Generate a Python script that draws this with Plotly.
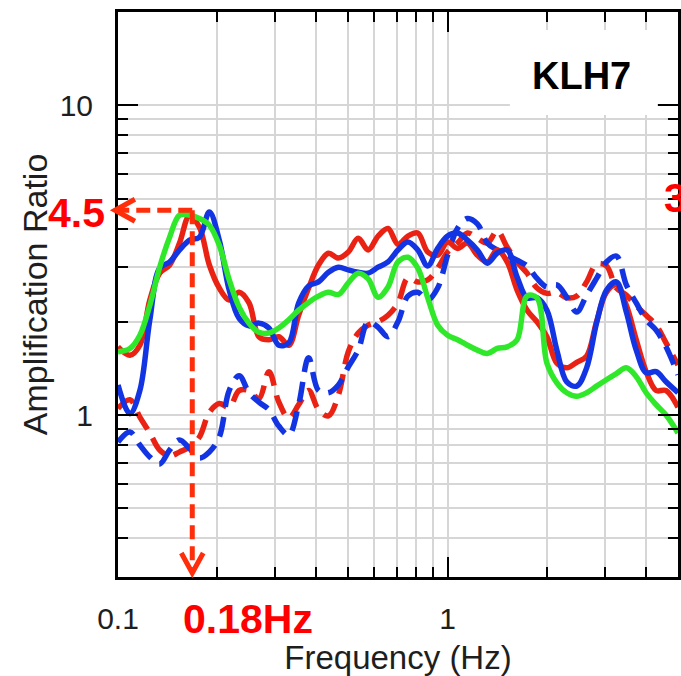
import math
import plotly.graph_objects as go

# ---------------- data ----------------
freq = [0.100, 0.1087, 0.1165, 0.1249, 0.1338, 0.1434, 0.1537, 0.1648, 0.1766, 0.1893,
        0.2029, 0.2175, 0.2331, 0.2498, 0.2677, 0.2870, 0.3076, 0.3297, 0.3533, 0.3787,
        0.4058, 0.4350, 0.4663, 0.4997, 0.5356, 0.5741, 0.6153, 0.6595, 0.7068, 0.7576,
        0.8120, 0.8704, 0.9330, 1.000, 1.072, 1.149, 1.231, 1.320, 1.414, 1.516,
        1.625, 1.742, 1.867, 2.001, 2.145, 2.299, 2.464, 2.641, 2.830, 3.033,
        3.251, 3.485, 3.735, 4.003, 4.291, 4.599, 5.00]

red_solid = [1.66, 1.56, 1.68, 2.35, 2.87, 3.05, 3.59, 4.40, 4.04, 3.05,
             2.57, 2.35, 2.49, 2.30, 1.79, 1.75, 1.79, 1.68, 2.10, 2.57,
             3.05, 3.33, 3.21, 3.36, 3.72, 3.41, 3.78, 4.00, 3.56, 3.78,
             3.87, 3.36, 3.28, 3.62, 3.45, 3.59, 3.28, 3.12, 3.41, 3.12,
             2.53, 2.18, 2.00, 1.79, 1.47, 1.42, 1.48, 1.55, 2.00, 2.49,
             2.63, 2.26, 1.75, 1.38, 1.20, 1.20, 1.06]

blue_solid = [1.25, 1.01, 1.20, 2.03, 2.98, 3.12, 3.41, 3.67, 3.75, 4.52,
              3.67, 2.53, 2.05, 1.94, 1.98, 1.91, 1.68, 1.71, 2.30, 2.61,
              2.69, 2.89, 3.00, 2.94, 2.89, 2.87, 3.00, 3.12, 3.41, 3.62,
              3.41, 3.03, 3.45, 3.78, 3.87, 3.67, 3.41, 3.09, 3.33, 3.41,
              2.79, 2.39, 2.39, 2.18, 1.62, 1.28, 1.24, 1.42, 1.98, 2.53,
              2.69, 2.15, 1.62, 1.37, 1.38, 1.28, 1.18]

green_solid = [1.60, 1.64, 1.81, 2.26, 3.00, 3.75, 4.42, 4.42, 4.31, 4.10,
               3.53, 2.73, 2.23, 1.98, 1.85, 1.84, 1.91, 2.03, 2.18, 2.31,
               2.42, 2.49, 2.45, 2.67, 2.87, 2.75, 2.40, 2.59, 3.12, 3.23,
               2.98, 2.39, 1.95, 1.81, 1.75, 1.68, 1.62, 1.58, 1.64, 1.66,
               1.75, 2.42, 2.39, 1.47, 1.27, 1.18, 1.15, 1.18, 1.24, 1.30,
               1.36, 1.42, 1.33, 1.18, 1.08, 1.00, 0.875]

red_dashed = [1.05, 1.12, 0.985, 0.875, 0.771, 0.738, 0.760, 0.788, 0.849, 1.02,
              1.09, 1.06, 1.20, 1.20, 1.13, 1.38, 1.10, 0.978, 1.08, 1.20,
              1.04, 0.993, 1.16, 1.60, 1.84, 1.95, 2.00, 2.10, 2.30, 2.77,
              2.69, 2.73, 2.98, 3.36, 3.59, 3.87, 3.72, 3.59, 3.93, 3.48,
              3.12, 2.87, 2.57, 2.47, 2.49, 2.39, 2.42, 2.69, 3.07, 3.03,
              2.57, 2.44, 2.25, 2.10, 1.95, 1.71, 1.45]

blue_dashed = [0.818, 0.881, 0.800, 0.732, 0.695, 0.771, 0.831, 0.780, 0.727, 0.760,
               0.849, 1.20, 1.34, 1.18, 1.10, 1.04, 0.921, 0.862, 1.08, 1.53,
               1.20, 1.18, 1.25, 1.43, 1.62, 2.00, 1.92, 1.79, 2.00, 2.42,
               2.49, 2.35, 2.57, 3.28, 4.01, 4.31, 4.14, 3.59, 3.41, 3.28,
               3.16, 3.03, 2.76, 2.59, 2.63, 2.40, 2.15, 2.44, 2.76, 3.12,
               3.26, 2.63, 2.30, 2.03, 1.88, 1.66, 1.35]

x_major = [0.1, 1]
x_major_text = ["0.1", "1"]
x_minor = [0.2, 0.3, 0.4, 0.5, 0.6, 0.7, 0.8, 0.9, 2, 3, 4]
y_major = [1, 10]
y_major_text = ["1", "10"]
y_minor = [0.4, 0.5, 0.6, 0.7, 0.8, 0.9, 2, 3, 4, 5, 6, 7, 8, 9]

peak_freq = 0.168   # marked peak (annotated as 0.18Hz)
peak_amp = 4.58     # marked peak amplitude (annotated as 4.5)

X_RANGE = [math.log10(0.1), math.log10(5.0)]
Y_RANGE = [math.log10(0.3), math.log10(20.0)]

# ---------------- styles / layout geometry ----------------
RED = "#ea2214"
BLUE = "#1234e2"
GREEN = "#30e82a"
ARROW = "#ff2d0a"
FONT = "Liberation Sans, Arial, sans-serif"

W, H = 681, 676
ML, MR, MT, MB = 118, 0, 12, 99
PW, PH = W - ML - MR, H - MT - MB
WIN_LEFT, WIN_BOTTOM = ML, H - MB   # plot left / bottom edge in pixels

fig = go.Figure()

def add_curve(y, color, dash=None):
    fig.add_trace(go.Scatter(
        x=freq, y=y, mode="lines",
        line=dict(color=color, width=5.5, shape="spline", smoothing=1.0,
                  dash=dash if dash else "solid"),
        hoverinfo="skip", showlegend=False))

add_curve(red_dashed, RED, "20px,10px")
add_curve(blue_dashed, BLUE, "20px,10px")
add_curve(red_solid, RED)
add_curve(blue_solid, BLUE)
add_curve(green_solid, GREEN)

# ---------------- paper-coordinate helpers ----------------
def px_x(f):
    return (math.log10(f) - X_RANGE[0]) / (X_RANGE[1] - X_RANGE[0])

def px_y(a):
    return (math.log10(a) - Y_RANGE[0]) / (Y_RANGE[1] - Y_RANGE[0])

def wx(x):  # pixel x -> paper
    return (x - WIN_LEFT) / PW

def wy(y):  # pixel y -> paper
    return (WIN_BOTTOM - y) / PH

pxk = 1.0 / PW
pyk = 1.0 / PH
xp, yp = px_x(peak_freq), px_y(peak_amp)
tip_left = -3 * pxk
tip_down = 4 * pyk
arrow_line = dict(color=ARROW, width=5, dash="14px,7px")
head_line = dict(color=ARROW, width=5)

shapes = [
    # white box behind station label
    dict(type="rect", xref="paper", yref="paper",
         x0=wx(512), x1=wx(660), y0=wy(115), y1=wy(30),
         fillcolor="white", line=dict(width=0), layer="above"),
    # horizontal dashed arrow to the amplitude axis
    dict(type="line", xref="paper", yref="paper",
         x0=xp, y0=yp, x1=tip_left + 4 * pxk, y1=yp, line=arrow_line, layer="above"),
    dict(type="path", xref="paper", yref="paper",
         path=f"M {tip_left + 20*pxk} {yp + 11*pyk} L {tip_left} {yp} L {tip_left + 20*pxk} {yp - 11*pyk}",
         line=head_line, layer="above"),
    # vertical dashed arrow to the frequency axis
    dict(type="line", xref="paper", yref="paper",
         x0=xp, y0=yp, x1=xp, y1=tip_down + 4 * pyk, line=arrow_line, layer="above"),
    dict(type="path", xref="paper", yref="paper",
         path=f"M {xp - 11*pxk} {tip_down + 20*pyk} L {xp} {tip_down} L {xp + 11*pxk} {tip_down + 20*pyk}",
         line=head_line, layer="above"),
]

annotations = [
    dict(text="<b>KLH7</b>", xref="paper", yref="paper", x=wx(584), y=wy(76),
         showarrow=False, xanchor="center", yanchor="middle",
         font=dict(family=FONT, size=38, color="black")),
    dict(text="<b>4.5</b>", xref="paper", yref="paper", x=wx(76), y=wy(213),
         showarrow=False, xanchor="center", yanchor="middle",
         font=dict(family=FONT, size=41, color="#ff0000")),
    dict(text="<b>0.18Hz</b>", xref="paper", yref="paper", x=wx(249), y=wy(619),
         showarrow=False, xanchor="center", yanchor="middle",
         font=dict(family=FONT, size=41, color="#ff0000")),
    dict(text="<b>3</b>", xref="paper", yref="paper", x=wx(665), y=wy(198),
         showarrow=False, xanchor="left", yanchor="middle",
         font=dict(family=FONT, size=41, color="#ff0000")),
]

axis_common = dict(
    type="log", showline=True, linecolor="black", linewidth=3, mirror="ticks",
    ticks="inside", ticklen=20, tickwidth=2, tickcolor="black",
    showgrid=True, gridcolor="#d6d6d6", gridwidth=1.5, zeroline=False,
    tickfont=dict(family=FONT, size=30, color="#1e1e1e"),
)

fig.update_layout(
    width=W, height=H,
    margin=dict(l=ML, r=MR, t=MT, b=MB),
    paper_bgcolor="white", plot_bgcolor="white",
    shapes=shapes, annotations=annotations,
    xaxis=dict(axis_common, range=X_RANGE, tickmode="array", tickvals=x_major, ticktext=x_major_text,
               ticklabelstandoff=13,
               minor=dict(tickmode="array", tickvals=x_minor, ticks="inside", ticklen=10, tickwidth=2,
                          tickcolor="black", showgrid=True, gridcolor="#d6d6d6", gridwidth=1.5),
               title=dict(text="Frequency (Hz)", standoff=14,
                          font=dict(family=FONT, size=33, color="#1e1e1e"))),
    yaxis=dict(axis_common, range=Y_RANGE, tickmode="array", tickvals=y_major, ticktext=y_major_text,
               ticklabelstandoff=16,
               minor=dict(tickmode="array", tickvals=y_minor, ticks="inside", ticklen=10, tickwidth=2,
                          tickcolor="black", showgrid=True, gridcolor="#d6d6d6", gridwidth=1.5),
               title=dict(text="Amplification Ratio", standoff=2,
                          font=dict(family=FONT, size=34, color="#1e1e1e"))),
)

# remove the browser's default 8px body margin so the figure fills the window exactly
fig.write_html("out.html",
               config={"displayModeBar": False},
               post_script="document.body.style.margin='0px';document.body.style.overflow='hidden';")
